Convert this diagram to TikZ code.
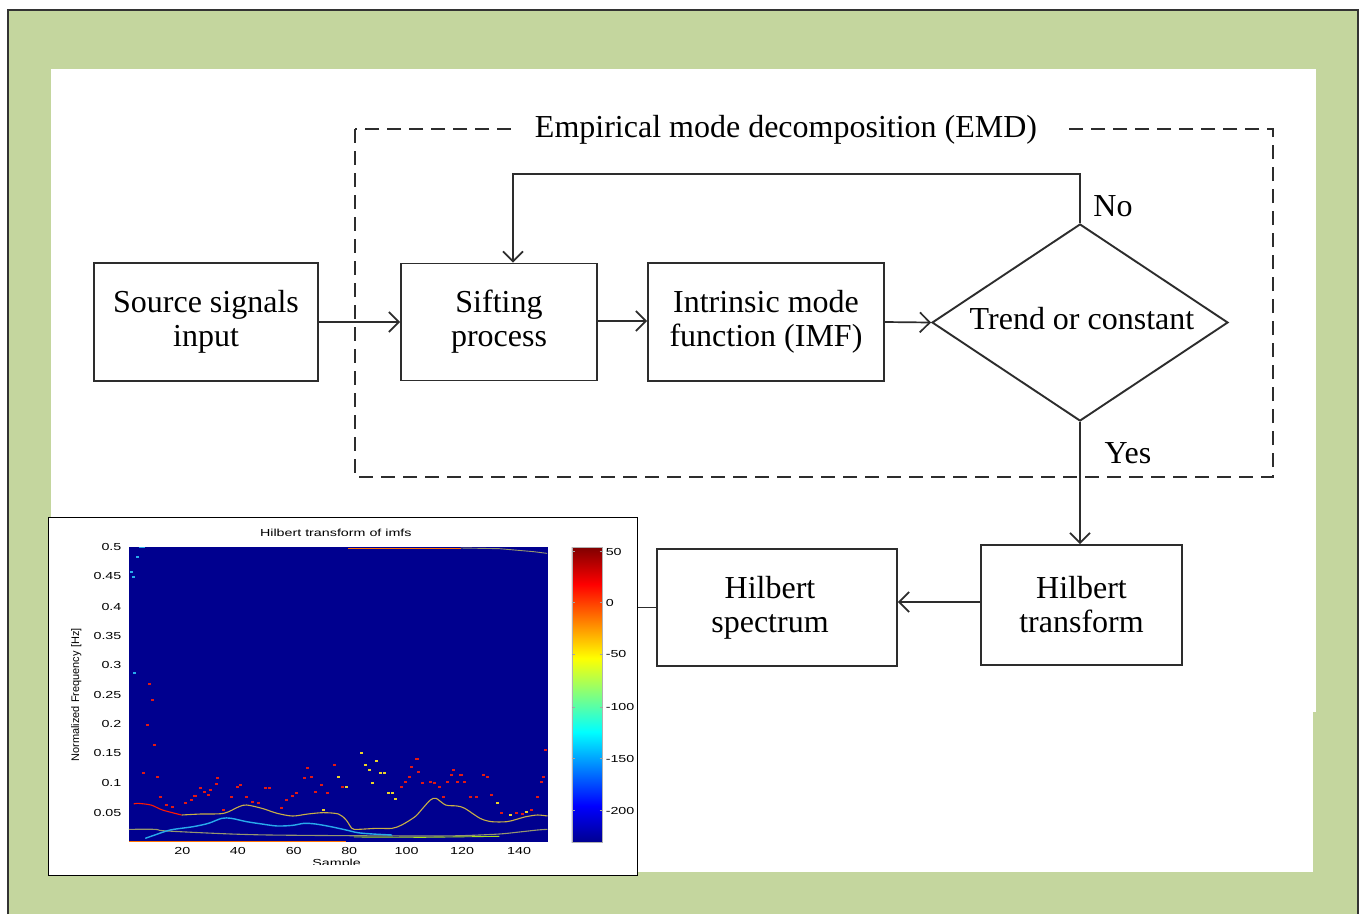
\documentclass[tikz,border=0pt]{standalone}
\usepackage{fontspec}
\setmainfont{Liberation Serif}
\newfontfamily\plotfont{Liberation Sans}
\usetikzlibrary{arrows.meta,shapes.geometric}
\definecolor{bggreen}{RGB}{196,214,158}
\definecolor{linegray}{RGB}{45,45,45}
\definecolor{jdb}{RGB}{0,0,143}
\definecolor{jb}{RGB}{0,0,255}
\definecolor{jc}{RGB}{0,255,255}
\definecolor{jy}{RGB}{255,255,0}
\definecolor{jr}{RGB}{255,0,0}
\definecolor{jdr}{RGB}{128,0,0}
\definecolor{curvey}{RGB}{200,175,70}
\definecolor{curvec}{RGB}{40,170,235}
\definecolor{curveg}{RGB}{150,150,110}
\definecolor{dotred}{RGB}{225,25,20}
\definecolor{dotyel}{RGB}{235,210,40}
\pgfdeclareverticalshading{jetmap}{100bp}{color(0bp)=(jdb); color(25bp)=(jdb); color(31.25bp)=(jb); color(43.75bp)=(jc); color(56.25bp)=(jy); color(68.75bp)=(jr); color(75bp)=(jdr); color(100bp)=(jdr)}
\newcommand{\flowfont}{\fontsize{32}{34}\selectfont}
\begin{document}
\begin{tikzpicture}[x=1pt,y=-1pt,
  stepbox/.style={draw=linegray, line width=1.9pt, align=center, font=\flowfont, inner sep=0pt},
  arr/.style={draw=linegray, line width=1.7pt, -{Straight Barb[length=10pt,width=20pt]}},
  conn/.style={draw=linegray, line width=1.7pt},
  emd/.style={draw=linegray, line width=2.3pt, dash pattern=on 14pt off 8pt},
  lbl/.style={font=\flowfont, inner sep=0pt},
  tick/.style={font=\plotfont\fontsize{10.2}{11}\selectfont, inner sep=1pt, xscale=1.4}]
\useasboundingbox (0,0) rectangle (1365,914);
\fill[white] (0,0) rectangle (1365,914);
\fill[bggreen] (8,10) rectangle (1358,914);
\draw[line width=1.5pt, black!80] (8,914) -- (8,10) -- (1358,10) -- (1358,914);
\fill[white] (51,69) rectangle (1316,712);
\fill[white] (51,712) rectangle (1313,872);

% EMD dashed frame
\draw[emd] (355,129) rectangle (1273,477);
\node[lbl, fill=white, inner xsep=24pt, inner ysep=4pt] (emdt) at (786,130) {Empirical mode decomposition (EMD)};

% flow nodes
\node[stepbox, minimum width=224pt, minimum height=118pt] (src) at (206,322) {Source signals\\input};
\node[stepbox, minimum width=196pt, minimum height=117pt] (sift) at (499,322) {Sifting\\process};
\node[stepbox, minimum width=236pt, minimum height=118pt] (imf) at (766,322) {Intrinsic mode\\function (IMF)};
\node[diamond, draw=linegray, line width=1.9pt, minimum width=296pt, minimum height=197pt, inner sep=0pt] (dec) at (1080,322.5) {};
\node[lbl] (dect) at (1082,319) {Trend or constant};
\node[stepbox, minimum width=201pt, minimum height=120pt] (ht) at (1081.5,605) {Hilbert\\transform};
\node[stepbox, minimum width=240pt, minimum height=117pt] (hs) at (777,607.5) {};
\node[lbl, align=center] (hst) at (770,607.5) {Hilbert\\spectrum};

% connectors
\draw[arr] (src.east) -- (sift.west);
\draw[arr] ([yshift=1pt]sift.east) -- ([yshift=1pt]sift.east -| imf.west);
\draw[arr] (imf.east) -- (dec.west);
\coordinate (fb) at (513,174);
\draw[arr] (dec.north) |- (fb) -- (fb |- sift.north);
\node[lbl] (no) at (1113,206) {No};
\draw[arr] (dec.south) -- (dec.south |- ht.north);
\node[lbl] (yes) at (1128,453) {Yes};
\draw[arr] ([yshift=3pt]ht.west) -- ([yshift=3pt]ht.west -| hs.east);

% plot box
\node[draw=black, line width=1.3pt, fill=white, minimum width=589pt, minimum height=358pt, inner sep=0pt, anchor=north west] (plotbox) at (48,517) {};
\draw[conn] (hs.west) -- (hs.west -| plotbox.east);

\begin{scope}[shift={(40,510)}, x=0.38270pt, y=-0.33333pt]
  \begin{scope}
  \clip (75,45) rectangle (1560,1062);
  % title
  \node[tick] (ptitle) at (773,70) {Hilbert transform of imfs};
  % image area
  \fill[jdb] (232,112) rectangle (1327,995);
  % top and bottom border traces
  \draw[orange!90!red, line width=0.9pt] (805,114) -- (1100,114);
  \draw[curveg, line width=0.9pt] (1100,114) -- (1200,116) -- (1290,125) -- (1325,130);
  \draw[orange!90!red, line width=0.9pt] (233,993) -- (800,993);
  \draw[curvec, line width=1pt] (258,113) -- (275,113);
  % curves
  \draw[curveg, line width=1.1pt] plot[smooth] coordinates {(232,958) (300,958) (320,962) (400,967) (500,972) (600,975) (800,977) (1000,978) (1100,977) (1200,972) (1260,965) (1300,960) (1326,958)};
  \draw[dotyel!70!green, line width=0.9pt] (820,981) -- (1000,982) -- (1200,979);
  \draw[curvec, line width=1.4pt] plot[smooth] coordinates {(275,985) (300,975) (340,960) (400,950) (440,940) (475,925) (500,925) (540,935) (580,942) (620,948) (660,946) (690,940) (720,942) (760,950) (800,960) (830,968) (870,972) (920,975)};
  \draw[curvey, line width=1.1pt] plot[smooth] coordinates {(370,915) (420,912) (480,910) (520,890) (540,885) (580,895) (620,910) (660,918) (700,912) (740,908) (780,912) (800,930) (815,955) (830,958) (880,955) (920,955) (945,945) (980,920) (1000,895) (1020,870) (1035,865) (1060,885) (1090,888) (1110,895) (1150,925) (1180,935) (1220,935) (1245,928) (1270,920) (1300,915) (1326,918)};
  \draw[red!80!orange, line width=1.1pt] plot[smooth] coordinates {(245,882) (255,880) (290,885) (320,900) (370,915)};
  % scattered points
  \foreach \px/\py in {287/523,295/570,280/645,300/705,308/800,270/790,315/862,330/885,345/892,380/880,395/870,405/858,420/835,430/845,440/855,445/840,460/822,465/805,480/900,500/860,515/830,525/825,540/860,555/875,570/880,590/835,600/835,630/895,645/870,660/858,670/850,690/805,700/775,710/800,720/845,735/825,750/850,770/765,790/830,945/830,955/815,965/800,970/770,985/748,990/785,1000/818,1020/815,1030/820,1045/830,1055/860,1065/815,1075/795,1080/780,1090/815,1100/795,1110/815,1125/860,1140/860,1160/795,1170/800,1180/855,1205/910,1245/910,1260/912,1285/900,1300/860,1310/815,1315/800,1322/720}
    \fill[dotred] (\px-4,\py-3) rectangle (\px+4,\py+3);
  \foreach \px/\py in {780/800,800/832,840/728,850/765,860/780,870/818,880/752,890/790,900/790,910/850,920/850,930/867,1195/880,1230/915,1270/905,740/900}
    \fill[dotyel] (\px-4,\py-3) rectangle (\px+4,\py+3);
  \foreach \px/\py in {248/490,240/185,245/200,255/140}
    \fill[curvec] (\px-4,\py-3) rectangle (\px+4,\py+3);
  % y ticks
  \foreach \v/\yy in {0.5/112,0.45/198,0.4/290,0.35/378,0.3/465,0.25/555,0.2/642,0.15/730,0.1/820,0.05/908}
    \node[tick, anchor=east] at (217,\yy) {\v};
  % x ticks
  \foreach \v/\xx in {20/372,40/517,60/663,80/808,100/958,120/1103,140/1252}
    \node[tick] at (\xx,1024) {\v};
  \node[tick] (xlab) at (775,1062) {Sample};
  \node[rotate=90, inner sep=1pt, font=\plotfont\fontsize{11}{12}\selectfont] (ylab) at (95,555) {Normalized Frequency [Hz]};
  % colorbar
  \shade[shading=jetmap] (1390,112) rectangle (1470,998);
  \draw[gray!60, line width=0.5pt] (1390,112) rectangle (1470,998);
  \foreach \v/\yy in {50/125,0/278,-50/433,-100/592,-150/746,-200/902}{
    \draw[gray!70, line width=0.5pt] (1390,\yy) -- (1398,\yy) (1462,\yy) -- (1470,\yy);
    \node[tick, anchor=west] at (1474,\yy) {\v};
  }
  \end{scope}
\end{scope}
\end{tikzpicture}
\end{document}
